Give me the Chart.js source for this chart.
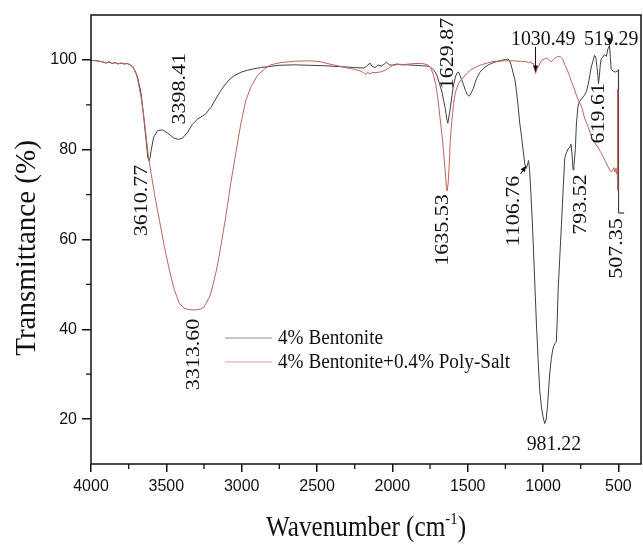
<!DOCTYPE html>
<html>
<head>
<meta charset="utf-8">
<script src="https://cdn.jsdelivr.net/npm/chart.js@4.4.1/dist/chart.umd.min.js"></script>
<style>
  html, body { margin: 0; padding: 0; background: #fff; }
  canvas { display: block; }
</style>
</head>
<body>
<canvas id="c" width="643" height="545"></canvas>
<script>
// ---------------- DATA ----------------
const seriesNames = ['4% Bentonite', '4% Bentonite+0.4% Poly-Salt'];

const bentoniteWN = [4000,3960,3930,3900,3880,3860,3840,3820,3800,3780,3760,3740,3725,3712,3700,3690,3680,3667,3650,3634,3623,3614,3608,3601,3584,3557,3524,3491,3451,3421,3392,3359,3326,3293,3260,3238,3205,3172,3145,3117,3085,3050,3000,2962,2920,2874,2800,2750,2650,2550,2450,2350,2250,2190,2170,2150,2135,2115,2095,2075,2055,2040,2020,2000,1970,1940,1900,1850,1800,1760,1740,1722,1705,1690,1671,1660,1649,1640,1632,1624,1616,1605,1594,1580,1570,1561,1552,1540,1528,1515,1503,1492,1484,1472,1462,1451,1440,1420,1405,1385,1363,1330,1300,1275,1250,1232,1222,1212,1200,1186,1176,1165,1154,1143,1132,1121,1112,1104,1097,1090,1081,1072,1066,1055,1044,1033,1022,1010,1000,989,980,971,962,956,945,934,922,912,906,900,889,878,867,856,845,834,822,815,808,801,795,786,779,769,757,740,724,710,700,690,680,670,658,650,643,636,632,626,620,614,604,592,580,570,559,553,548,535,520,505,500,499];
const bentoniteT  = [99.9,99.8,99.6,99.3,99.6,99.2,99.4,99.1,99.3,99.1,99.2,98.9,98.5,97.8,97.0,96.0,94.5,92.4,87.2,82.0,78.3,77.5,78.2,79.8,82.8,84.3,84.4,83.7,82.6,82.3,82.6,83.9,85.7,86.8,87.5,88.0,89.4,91.3,92.8,94.2,95.5,96.5,97.3,97.7,98.0,98.3,98.6,98.8,98.9,98.8,98.7,98.5,98.3,98.2,98.6,99.3,98.6,98.3,98.9,98.6,99.0,99.5,98.9,98.8,99.1,98.9,98.9,98.8,98.7,98.6,98.2,97.6,96.6,95.0,92.9,91.0,89.2,87.0,85.9,87.5,89.2,92.0,94.4,96.4,97.1,97.3,96.6,95.6,94.5,93.2,92.3,91.9,92.2,93.0,93.7,94.9,95.9,97.2,97.8,98.4,98.9,99.4,99.7,99.9,100.1,100.2,99.8,98.9,97.3,95.5,92.9,89.5,85.7,83.0,79.8,76.8,75.8,76.5,77.6,75.8,70.5,64.5,59.6,50.5,41.2,33.5,26.4,22.5,20.5,19.0,19.8,22.7,27.0,30.1,33.5,35.8,36.8,37.2,42.0,48.6,56.0,63.3,71.0,78.1,79.3,80.2,80.5,81.2,79.0,75.5,76.5,80.0,85.5,89.5,90.8,91.5,92.2,93.2,94.6,96.5,98.4,99.6,101.0,100.6,98.6,96.5,94.7,96.5,99.0,100.3,100.6,101.2,100.8,102.4,103.2,100.5,98.0,97.5,97.3,97.5,97.8,66.0];

const polySaltWN = [4000,3960,3930,3900,3880,3860,3840,3820,3800,3780,3760,3740,3725,3712,3700,3690,3680,3667,3650,3634,3620,3601,3579,3546,3513,3480,3447,3414,3381,3350,3310,3271,3250,3238,3220,3205,3190,3172,3155,3139,3106,3073,3040,3006,2973,2940,2896,2852,2808,2742,2650,2550,2480,2420,2350,2300,2250,2210,2185,2175,2165,2150,2130,2100,2070,2046,2020,2000,1960,1914,1850,1800,1765,1745,1727,1712,1698,1685,1671,1660,1649,1641,1636,1630,1622,1616,1605,1594,1583,1572,1560,1545,1530,1517,1500,1480,1450,1429,1400,1370,1341,1300,1250,1200,1150,1110,1095,1085,1075,1065,1058,1050,1042,1030,1010,990,978,965,955,945,930,915,900,885,870,856,840,825,812,795,779,760,746,724,700,680,660,636,620,603,585,570,558,548,538,530,524,518,512,508,506,504];
const polySaltT  = [99.9,99.8,99.6,99.3,99.5,99.2,99.4,99.1,99.3,99.1,99.2,98.9,98.5,97.8,96.8,95.6,93.8,91.5,87.5,83.0,78.8,74.7,70.2,64.3,58.4,53.2,48.8,45.8,44.7,44.4,44.3,44.5,45.0,45.7,46.8,48.0,50.0,52.5,55.3,58.4,65.0,72.4,79.1,85.7,90.9,93.9,96.5,97.9,98.9,99.4,99.7,99.8,99.6,99.1,98.6,98.2,97.9,97.5,97.0,96.7,97.3,96.9,97.2,97.2,97.4,97.7,98.3,98.8,99.0,99.0,99.2,99.2,98.9,98.2,96.6,94.5,91.4,87.5,83.3,79.5,75.0,71.5,70.8,72.5,77.0,81.8,86.5,90.3,92.5,93.8,94.8,95.6,96.0,96.6,97.2,97.8,98.3,98.7,99.0,99.3,99.6,99.7,99.8,99.8,99.7,99.6,99.3,99.7,99.2,99.3,98.5,97.0,97.8,98.6,99.9,100.2,100.4,100.2,99.8,99.6,100.1,100.5,100.8,100.7,100.2,99.0,97.8,96.5,95.2,93.8,92.2,90.5,89.8,87.0,85.0,83.0,81.6,80.6,79.6,78.6,77.3,76.3,75.5,75.0,75.4,76.0,75.0,75.8,74.6,76.0,93.5,71.0];

const xTickValues = [4000,3500,3000,2500,2000,1500,1000,500];
const xMinorValues = [3750,3250,2750,2250,1750,1250,750];
const yTickValues = [20,40,60,80,100];
const yMinorValues = [30,50,70,90];

// peak annotations (anchor in data units)
const peakText = ['3610.77','3398.41','3313.60','1629.87','1635.53','1106.76','793.52','619.61','507.35','1030.49','519.29','981.22'];
const peakAtWN = [3666,3414,3324,1638,1671,1203,757,636,515,999,548,928];
const peakAtT  = [68.7,93.6,34.4,101.4,62.1,66.3,67.8,88.1,58.0,104.9,104.9,14.7];
const peakVertical = [true,true,true,true,true,true,true,true,true,false,false,false];

// arrows / leaders: [wn1, t1, wn2, t2, head]
const pointerLines = [
  [1150, 74.6, 1112, 76.4, true],
  [1050, 102.9, 1050, 97.4, true],
  [559, 104.7, 559, 103.3, true],
  [500, 65.9, 462, 65.9, false]
];

// ---------------- STYLE ----------------
const SERIF = "'Liberation Serif', 'Times New Roman', 'DejaVu Serif', serif";
const SANS = "'Liberation Sans', Arial, 'DejaVu Sans', sans-serif";
const colors = ['#404040', '#c4645a'];
const INK = '#111';

function toPoints(xs, ys) { return xs.map((x, i) => ({ x: x, y: ys[i] })); }

const decorPlugin = {
  id: 'decor',
  beforeDraw(chart) {
    const ctx = chart.ctx;
    ctx.save();
    ctx.fillStyle = '#fff';
    ctx.fillRect(0, 0, chart.width, chart.height);
    ctx.restore();
  },
  afterDraw(chart) {
    const { ctx, chartArea: a, scales } = chart;
    const xs = scales.x, ys = scales.y;
    ctx.save();
    // frame
    ctx.strokeStyle = INK;
    ctx.lineWidth = 1.5;
    ctx.strokeRect(a.left, a.top, a.right - a.left, a.bottom - a.top);
    // minor ticks
    ctx.lineWidth = 1.3;
    ctx.beginPath();
    xMinorValues.forEach(v => {
      const px = xs.getPixelForValue(v);
      ctx.moveTo(px, a.bottom); ctx.lineTo(px, a.bottom + 5);
    });
    yMinorValues.forEach(v => {
      const py = ys.getPixelForValue(v);
      ctx.moveTo(a.left - 5, py); ctx.lineTo(a.left, py);
    });
    ctx.stroke();

    ctx.fillStyle = INK;
    // y title
    ctx.save();
    ctx.translate(27, 248);
    ctx.rotate(-Math.PI / 2);
    ctx.font = '29px ' + SERIF;
    ctx.textAlign = 'center';
    ctx.textBaseline = 'middle';
    ctx.fillText('Transmittance (%)', 0, 0);
    ctx.restore();

    // x title with superscript
    ctx.save();
    ctx.translate((a.left + a.right) / 2, 536);
    ctx.scale(0.87, 1);
    ctx.textBaseline = 'alphabetic';
    ctx.textAlign = 'left';
    const main = 'Wavenumber (cm', sup = '-1', close = ')';
    ctx.font = '29px ' + SERIF;
    const w1 = ctx.measureText(main).width, w3 = ctx.measureText(close).width;
    ctx.font = '17px ' + SERIF;
    const w2 = ctx.measureText(sup).width;
    const sx = -(w1 + w2 + w3) / 2;
    ctx.font = '29px ' + SERIF;
    ctx.fillText(main, sx, 0);
    ctx.font = '17px ' + SERIF;
    ctx.fillText(sup, sx + w1, -12);
    ctx.font = '29px ' + SERIF;
    ctx.fillText(close, sx + w1 + w2, 0);
    ctx.restore();

    // legend (in series order)
    const legendX = 225, legendLen = 47, legendY = [338, 362];
    seriesNames.forEach((name, i) => {
      ctx.save();
      ctx.strokeStyle = colors[i];
      ctx.globalAlpha = 0.6;
      ctx.lineWidth = 1.2;
      ctx.beginPath();
      ctx.moveTo(legendX, legendY[i]); ctx.lineTo(legendX + legendLen, legendY[i]);
      ctx.stroke();
      ctx.restore();
      ctx.save();
      ctx.translate(legendX + legendLen + 6, legendY[i]);
      ctx.scale(0.96, 1);
      ctx.font = '20px ' + SERIF;
      ctx.textAlign = 'left';
      ctx.textBaseline = 'middle';
      ctx.fillStyle = INK;
      ctx.fillText(name, 0, 1);
      ctx.restore();
    });

    // peak labels
    peakText.forEach((t, i) => {
      const px = xs.getPixelForValue(peakAtWN[i]);
      const py = ys.getPixelForValue(peakAtT[i]);
      ctx.save();
      ctx.translate(px, py);
      ctx.scale(0.9, 1);
      if (peakVertical[i]) ctx.rotate(-Math.PI / 2);
      ctx.font = '22px ' + SERIF;
      ctx.textAlign = 'center';
      ctx.textBaseline = 'middle';
      ctx.fillStyle = INK;
      ctx.fillText(t, 0, 1);
      ctx.restore();
    });

    // pointers
    pointerLines.forEach(p => {
      const x1 = xs.getPixelForValue(p[0]), y1 = ys.getPixelForValue(p[1]);
      const x2 = xs.getPixelForValue(p[2]), y2 = ys.getPixelForValue(p[3]);
      ctx.save();
      ctx.strokeStyle = INK; ctx.fillStyle = INK; ctx.lineWidth = 1;
      ctx.beginPath(); ctx.moveTo(x1, y1); ctx.lineTo(x2, y2); ctx.stroke();
      if (p[4]) {
        const ang = Math.atan2(y2 - y1, x2 - x1), L = 6, W = 2.6;
        ctx.beginPath();
        ctx.moveTo(x2, y2);
        ctx.lineTo(x2 - L * Math.cos(ang) + W * Math.sin(ang), y2 - L * Math.sin(ang) - W * Math.cos(ang));
        ctx.lineTo(x2 - L * Math.cos(ang) - W * Math.sin(ang), y2 - L * Math.sin(ang) + W * Math.cos(ang));
        ctx.closePath(); ctx.fill();
      }
      ctx.restore();
    });
    ctx.restore();
  }
};

const axisCommon = {
  border: { display: false },
  ticks: { color: INK, font: { family: SANS, size: 16 }, autoSkip: false, maxRotation: 0, callback: v => String(v) }
};

new Chart(document.getElementById('c'), {
  type: 'line',
  data: {
    datasets: [
      { label: seriesNames[1], data: toPoints(polySaltWN, polySaltT), borderColor: colors[1], borderWidth: 1, pointRadius: 0, tension: 0, fill: false },
      { label: seriesNames[0], data: toPoints(bentoniteWN, bentoniteT), borderColor: colors[0], borderWidth: 1, pointRadius: 0, tension: 0, fill: false }
    ]
  },
  options: {
    responsive: false,
    animation: false,
    events: [],
    layout: { padding: { top: 15, right: 2, left: 0, bottom: 0 } },
    plugins: { legend: { display: false }, tooltip: { enabled: false } },
    scales: {
      x: Object.assign({}, axisCommon, {
        type: 'linear', reverse: true, min: 350, max: 4000,
        afterBuildTicks: s => { s.ticks = xTickValues.map(v => ({ value: v })); },
        afterFit: s => { s.height = 81; },
        grid: { drawOnChartArea: false, drawTicks: true, tickLength: 8, color: INK, lineWidth: 1.5 },
        ticks: Object.assign({}, axisCommon.ticks, { padding: 5 })
      }),
      y: Object.assign({}, axisCommon, {
        type: 'linear', min: 10, max: 110,
        afterBuildTicks: s => { s.ticks = yTickValues.map(v => ({ value: v })); },
        afterFit: s => { s.width = 91; },
        grid: { drawOnChartArea: false, drawTicks: true, tickLength: 9, color: INK, lineWidth: 1.5 },
        ticks: Object.assign({}, axisCommon.ticks, { padding: 5 })
      })
    }
  },
  plugins: [decorPlugin]
});
</script>
</body>
</html>
